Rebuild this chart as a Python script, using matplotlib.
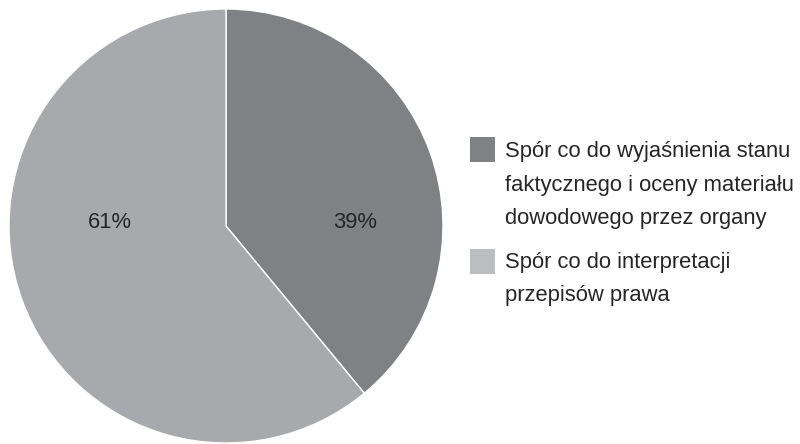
import matplotlib
matplotlib.use("Agg")
import matplotlib.pyplot as plt
from matplotlib.patches import Rectangle

# share of disputes by type
labels = ["Spór co do wyjaśnienia stanu\nfaktycznego i oceny materiału\ndowodowego przez organy",
          "Spór co do interpretacji\nprzepisów prawa"]
values = [39, 61]
colors = ["#808185", "#a8a9ad"]
legend_colors = ["#808185", "#bcbdc1"]  # legend swatches come out a bit lighter in the original
pct_labels = ["39%", "61%"]

plt.rcParams["font.family"] = ["Liberation Sans", "DejaVu Sans"]

W, H = 800, 444
fig = plt.figure(figsize=(W / 100, H / 100), dpi=100)

# pie centre (226, 226) px, radius 217 px
cx, cy, r = 226, 226, 217
ax = fig.add_axes([(cx - r) / W, (H - cy - r) / H, 2 * r / W, 2 * r / H])
wedges, _ = ax.pie(values, colors=colors, startangle=90, counterclock=False,
                   radius=1, wedgeprops=dict(edgecolor="white", linewidth=1))
ax.set_xlim(-1, 1)
ax.set_ylim(-1, 1)
ax.set_aspect("equal")
ax.axis("off")

fs = 15.8
txt_col = "#262626"

# percent labels
pct_pos = [(355, 222), (110, 222)]
for (px, py), t in zip(pct_pos, pct_labels):
    fig.text(px / W, 1 - py / H, t, ha="center", va="center", fontsize=fs, color=txt_col)

# legend drawn by hand so the square sits at the first line
leg_rows = [(137, 157), (249, 268)]
line_step = 33.5
for (sq_top, base), lab, c in zip(leg_rows, labels, legend_colors):
    fig.add_artist(Rectangle((470 / W, 1 - (sq_top + 25) / H), 25 / W, 25 / H,
                             transform=fig.transFigure, facecolor=c, edgecolor="none"))
    for i, line in enumerate(lab.split("\n")):
        fig.text(505 / W, 1 - (base + i * line_step) / H, line, ha="left",
                 va="baseline", fontsize=fs, color=txt_col)

fig.savefig("out.png", dpi=100)
